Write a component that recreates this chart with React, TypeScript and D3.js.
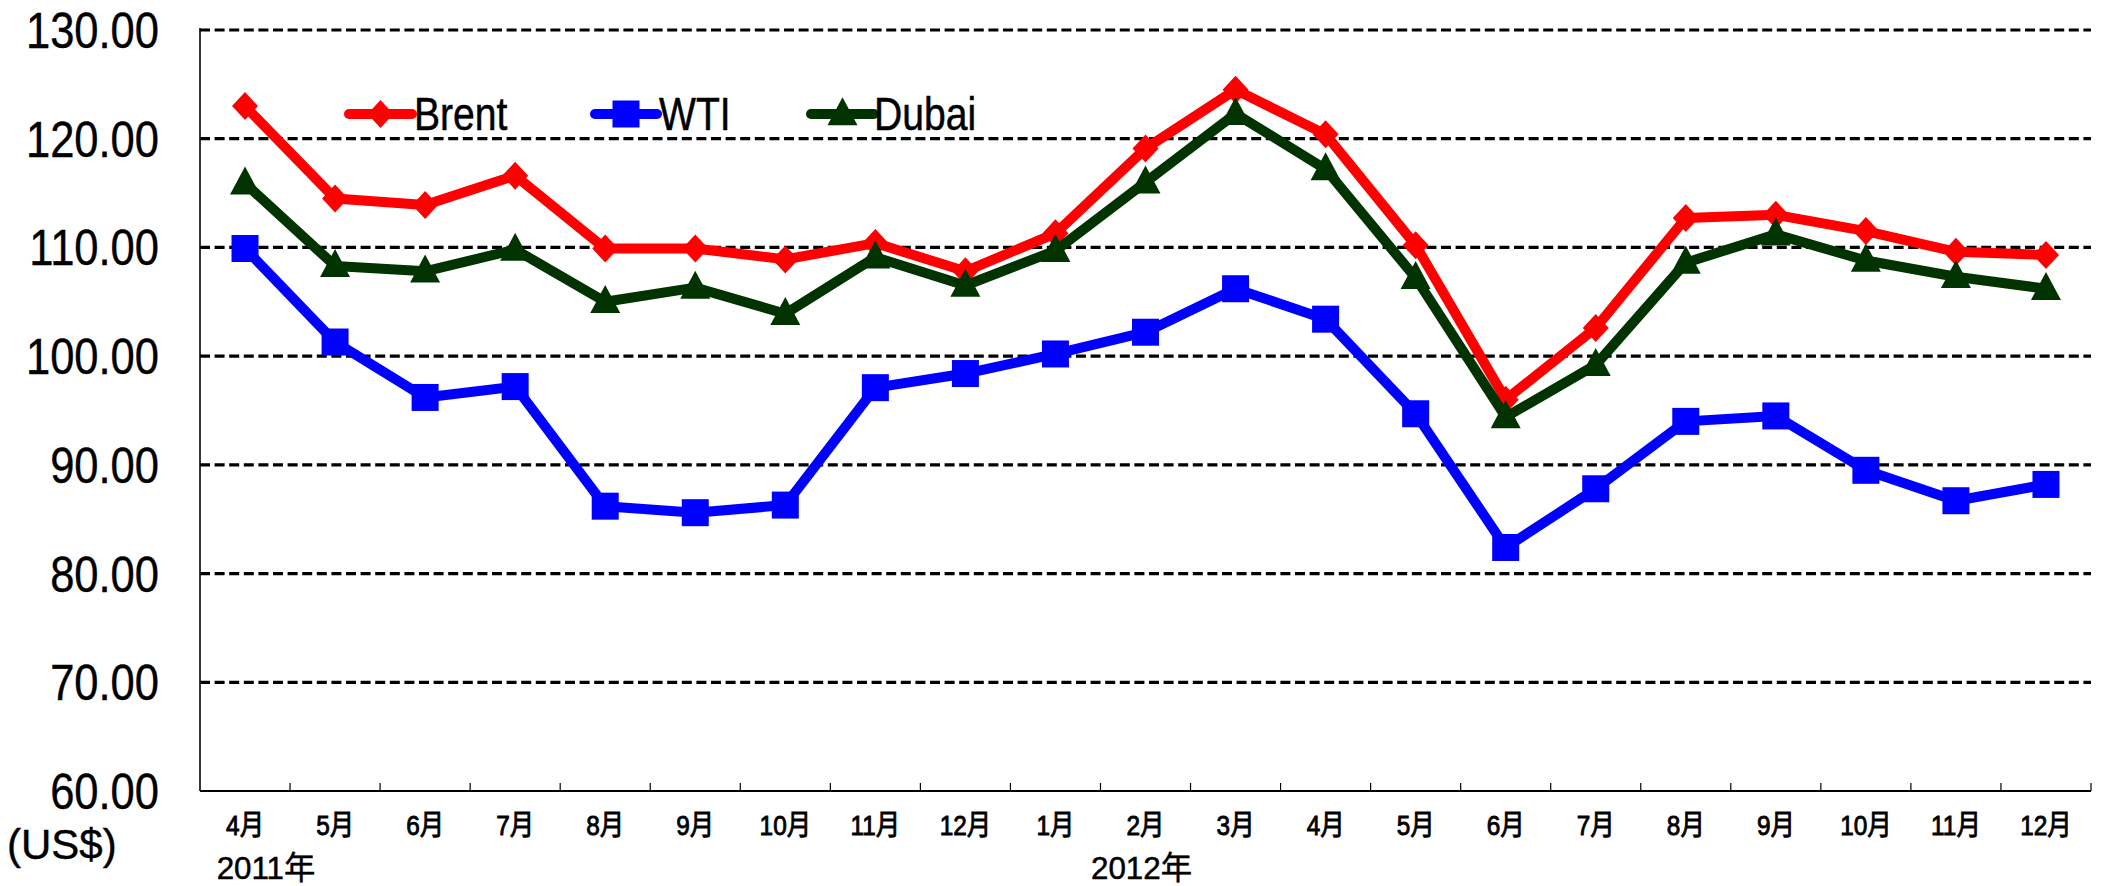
import React from "react";
import * as d3 from "d3";

const months = ["4月","5月","6月","7月","8月","9月","10月","11月","12月","1月","2月","3月","4月","5月","6月","7月","8月","9月","10月","11月","12月"];
const brent = [123.0,114.5,113.9,116.6,109.9,109.9,108.9,110.4,107.8,111.3,119.1,124.5,120.4,110.2,96.0,102.6,112.7,113.0,111.5,109.6,109.3];
const wti = [109.9,101.3,96.2,97.2,86.2,85.6,86.3,97.1,98.4,100.2,102.2,106.2,103.4,94.7,82.4,87.8,94.0,94.5,89.5,86.7,88.2];
const dubai = [115.9,108.3,107.8,109.8,105.0,106.3,103.9,109.1,106.5,109.7,116.0,122.3,117.2,107.2,94.4,99.2,108.6,111.2,108.8,107.3,106.2];
const yTicks = [60,70,80,90,100,110,120,130];
const yearLabels = ["2011年", "2012年"];
const yearIndex = [0, 10];
const seriesNames = ["Brent","WTI","Dubai"];

const W = 2109, H = 886;
const left = 200, right = 2091, top = 30, bottom = 791;
const FONT = "'Liberation Sans', Arial, 'Noto Sans CJK JP', sans-serif";

type Shape = "diamond" | "square" | "triangle";
const series: { name: string; values: number[]; color: string; shape: Shape }[] = [
  { name: seriesNames[0], values: brent, color: "#FF0000", shape: "diamond" },
  { name: seriesNames[1], values: wti, color: "#0000FF", shape: "square" },
  { name: seriesNames[2], values: dubai, color: "#003300", shape: "triangle" },
];

function Marker({ shape, x, y, color }: { shape: Shape; x: number; y: number; color: string }) {
  if (shape === "diamond") {
    const a = 13, b = 14;
    return <path d={`M${x},${y - b}L${x + a},${y}L${x},${y + b}L${x - a},${y}Z`} fill={color} />;
  }
  if (shape === "square") {
    const s = 13.5;
    return <rect x={x - s} y={y - s} width={2 * s} height={2 * s} fill={color} />;
  }
  const hw = 15, h = 28;
  return <path d={`M${x},${y - h * 0.6}L${x + hw},${y + h * 0.4}L${x - hw},${y + h * 0.4}Z`} fill={color} />;
}

export default function App() {
  const x = d3.scaleBand<number>().domain(d3.range(months.length)).range([left, right]).padding(0);
  const bw = x.bandwidth();
  const cx = (i: number) => (x(i) as number) + bw / 2;
  const y = d3.scaleLinear().domain([60, 130]).range([bottom, top]);
  const line = d3.line<number>().x((_, i) => cx(i)).y((d) => y(d));

  const legendItems = [
    { x0: 349, x1: 412, tx: 414 },
    { x0: 595, x1: 657, tx: 659 },
    { x0: 811, x1: 874, tx: 874 },
  ];
  const yearOffsets = [21, -4];

  return (
    <svg width={W} height={H} style={{ position: "absolute", left: 0, top: 0, background: "#fff" }} fontFamily={FONT}>
      <rect x={0} y={0} width={W} height={H} fill="#fff" />
      {yTicks.filter((t) => t > 60).map((t) => (
        <line key={t} x1={left} x2={right} y1={y(t)} y2={y(t)} stroke="#000" strokeWidth={3.2} strokeDasharray="10,4.6" />
      ))}
      <line x1={left} x2={left} y1={top - 2} y2={bottom} stroke="#000" strokeWidth={1.6} />
      <line x1={left} x2={right} y1={bottom} y2={bottom} stroke="#000" strokeWidth={2} />
      {d3.range(1, months.length + 1).map((k) => {
        const xx = k === months.length ? right : (x(k) as number);
        return <line key={k} x1={xx} x2={xx} y1={bottom} y2={bottom - 8} stroke="#000" strokeWidth={1.2} />;
      })}
      {yTicks.map((t) => (
        <text key={t} transform={`translate(159,${y(t) + 18}) scale(0.87,1)`} textAnchor="end" fontSize={50} fill="#000" stroke="#000" strokeWidth={0.4}>
          {t.toFixed(2)}
        </text>
      ))}
      <text x={7} y={859} fontSize={42} fill="#000" stroke="#000" strokeWidth={0.4}>(US$)</text>
      {months.map((m, i) => (
        <text key={i} transform={`translate(${cx(i)},835) scale(0.87,1)`} textAnchor="middle" fontSize={28} fill="#000" stroke="#000" strokeWidth={0.9}>
          {m}
        </text>
      ))}
      {yearLabels.map((label, j) => (
        <text key={label} transform={`translate(${cx(yearIndex[j]) + yearOffsets[j]},879) scale(0.98,1)`} textAnchor="middle" fontSize={32} fill="#000" stroke="#000" strokeWidth={0.5}>
          {label}
        </text>
      ))}
      {series.map((s) => (
        <g key={s.name}>
          <path d={line(s.values) || ""} fill="none" stroke={s.color} strokeWidth={10} strokeLinejoin="round" />
          {s.values.map((v, i) => (
            <Marker key={i} shape={s.shape} x={cx(i)} y={y(v)} color={s.color} />
          ))}
        </g>
      ))}
      {series.map((s, i) => {
        const li = legendItems[i];
        return (
          <g key={s.name}>
            <line x1={li.x0} x2={li.x1} y1={114} y2={114} stroke={s.color} strokeWidth={10} strokeLinecap="round" />
            <Marker shape={s.shape} x={(li.x0 + li.x1) / 2} y={114} color={s.color} />
            <text transform={`translate(${li.tx},130) scale(0.85,1)`} fontSize={46} fill="#000" stroke="#000" strokeWidth={0.5}>{s.name}</text>
          </g>
        );
      })}
    </svg>
  );
}
